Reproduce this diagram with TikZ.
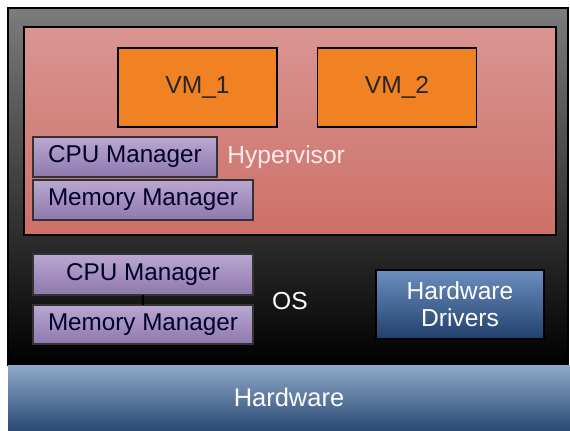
\documentclass[tikz,border=0pt]{standalone}
\usepackage{fontspec}
\setmainfont{Liberation Sans}
\usetikzlibrary{positioning}
\definecolor{layertop}{HTML}{7C7C7C}
\definecolor{layerbot}{HTML}{000000}
\definecolor{hyptop}{HTML}{D99592}
\definecolor{hypbot}{HTML}{CD7068}
\definecolor{vmfill}{HTML}{F08224}
\definecolor{mgrtop}{HTML}{BAA7D0}
\definecolor{mgrbot}{HTML}{8E78AE}
\definecolor{drvtop}{HTML}{6C8FC0}
\definecolor{drvbot}{HTML}{213F6B}
\definecolor{hwtop}{HTML}{8FA9C9}
\definecolor{hwbot}{HTML}{2B4A75}
\tikzset{
  layer/.style={draw=black, line width=0.8pt, inner sep=0pt, outer sep=0pt},
  vmbox/.style={layer, fill=vmfill, minimum width=3.18cm, minimum height=1.58cm,
    font=\fontsize{14}{16}\selectfont, text=black!85},
  mgrbox/.style={layer, draw=black!80, top color=mgrtop, bottom color=mgrbot,
    minimum height=0.8cm, font=\fontsize{13.8}{16}\selectfont, text=black!85!blue},
  lbl/.style={font=\fontsize{14}{16}\selectfont, text=white, inner sep=0pt}
}
\begin{document}
\begin{tikzpicture}[x=0.02cm, y=-0.02cm]
    \useasboundingbox (0,0) rectangle (570,430);
    % machine frame and layers
    \node[layer, top color=layertop, bottom color=layerbot, minimum width=11.2cm, minimum height=7.14cm] (machine) at (288,186.5) {};
    \node[layer, draw=none, top color=hwtop, bottom color=hwbot, minimum width=11.24cm, minimum height=1.3cm, font=\fontsize{14.5}{16}\selectfont, text=white] (hw) at (289,397.5) {Hardware};
    \node[layer, top color=hyptop, bottom color=hypbot, minimum width=10.64cm, minimum height=4.16cm] (hyp) at (290,131) {};

    % hypervisor
    \node[vmbox] (vm1) at (197.5,87.5) {VM\_1};
    \node[vmbox] (vm2) at (397,87.5) {VM\_2};
    \node[mgrbox, minimum width=3.68cm] (hcpu) at (125,157) {CPU Manager};
    \node[mgrbox, minimum width=4.4cm] (hmem) at (143,200) {Memory Manager};
    \node[lbl, anchor=west, text=white!92!red] (hyplbl) at (227,157) {Hypervisor};

    % os
    \node[mgrbox, minimum width=4.4cm, minimum height=0.82cm] (ocpu) at (143,274.5) {CPU Manager};
    \node[mgrbox, minimum width=4.4cm, minimum height=0.78cm] (omem) at (143,324.5) {Memory Manager};
    \node[lbl] (oslbl) at (290,301) {OS};
    \node[layer, top color=drvtop, bottom color=drvbot, minimum width=3.36cm, minimum height=1.38cm,
      align=center, font=\fontsize{14}{15.5}\selectfont, text=white] (drv) at (460,304.5) {Hardware\\Drivers};

    \draw[black, line width=0.8pt] (ocpu) -- (omem);
\end{tikzpicture}
\end{document}
